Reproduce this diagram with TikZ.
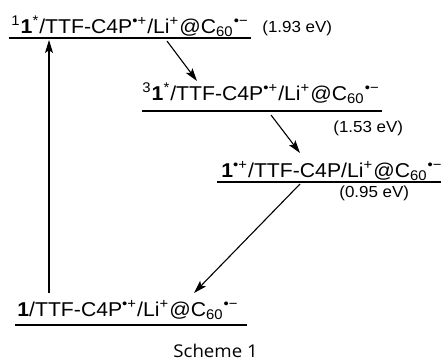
\documentclass[tikz,border=0pt]{standalone}
\usepackage{graphicx}
\usepackage{fontspec}
\setmainfont{Liberation Sans}
\newfontfamily\captionfont{Open Sans}
\usetikzlibrary{arrows.meta}

% radical ion charges
\newcommand{\radcat}{\textsuperscript{•+}}
\newcommand{\radan}{\textsuperscript{•−}}
\newcommand{\lipc}{Li\textsuperscript{+}@C\textsubscript{60}\radan}
% slightly widened lettering
\newcommand{\wide}[1]{\scalebox{1.06}[1]{#1}}

\begin{document}
\begin{tikzpicture}[x=0.5pt,y=-0.5pt,
  level/.style={line width=0.9pt},
  species/.style={anchor=base west, inner sep=0pt, font=\fontsize{10}{12}\selectfont},
  energy/.style={anchor=base west, inner sep=0pt, font=\fontsize{8}{10}\selectfont},
  transfer/.style={line width=0.55pt, -{Stealth[length=6.5pt,width=4pt,inset=1.4pt]}}]
\useasboundingbox (0,0) rectangle (441,360);

% energy levels
\coordinate (l1a) at (9,38);   \coordinate (l1b) at (251,38);
\coordinate (l2a) at (142,111); \coordinate (l2b) at (382,111);
\coordinate (l3a) at (217,182); \coordinate (l3b) at (441,182);
\coordinate (l4a) at (15,325);  \coordinate (l4b) at (247,325);
\draw[level] (l1a) -- (l1b);
\draw[level] (l2a) -- (l2b);
\draw[level] (l3a) -- (l3b);
\draw[level] (l4a) -- (l4b);

% state labels
\node[species] (s1) at (11,33) {\wide{\textsuperscript{1}\textbf{1}\textsuperscript{*}/TTF-C4P\radcat/\lipc}};
\node[species] (s3) at (142,100) {\wide{\textsuperscript{3}\textbf{1}\textsuperscript{*}/TTF-C4P\radcat/\lipc}};
\node[species] (cs) at (221,177) {\wide{\textbf{1}\radcat/TTF-C4P/\lipc}};
\node[species] (gs) at (17,316) {\wide{\textbf{1}/TTF-C4P\radcat/\lipc}};

% energies
\node[energy] (e1) at (262,32) {\wide{(1.93 eV)}};
\node[energy] (e2) at (333,132) {\wide{(1.53 eV)}};
\node[energy] (e3) at (339,197) {\wide{(0.95 eV)}};

% transitions
\coordinate (up0) at (49,293);  \coordinate (up1) at (49,40);
\coordinate (t1a) at (167,41);  \coordinate (t1b) at (197,81);
\coordinate (t2a) at (271,115); \coordinate (t2b) at (300,153);
\coordinate (t3a) at (300,184); \coordinate (t3b) at (194,293);
\draw[transfer] (up0) -- (up1);
\draw[transfer] (t1a) -- (t1b);
\draw[transfer] (t2a) -- (t2b);
\draw[transfer] (t3a) -- (t3b);

\node[anchor=base west, inner sep=0pt, font=\captionfont\fontsize{8.8}{11}\selectfont] (cap) at (173,357) {\wide{Scheme 1}};
\end{tikzpicture}
\end{document}
